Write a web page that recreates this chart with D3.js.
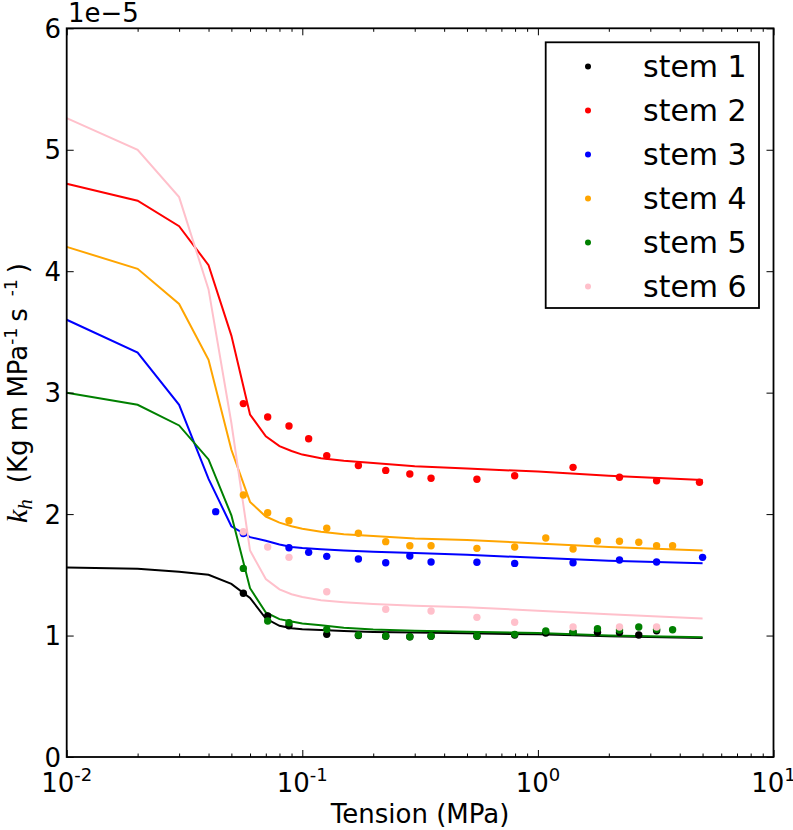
<!DOCTYPE html>
<html>
<head>
<meta charset="utf-8">
<script src="https://cdn.jsdelivr.net/npm/d3@7"></script>
<style>
  html, body { margin: 0; padding: 0; background: #fff; }
  svg { display: block; font-family: "DejaVu Sans", sans-serif; }
</style>
</head>
<body>
<div id="chart"></div>
<script>
// ---- data (k_h values in units of 1e-5) ----
const seriesNames = ["stem 1", "stem 2", "stem 3", "stem 4", "stem 5", "stem 6"];
const seriesColors = ["#000000", "#ff0000", "#0000ff", "#ffa500", "#008000", "#ffc0cb"];

// measured points
const stem1X = [0.0562, 0.0713, 0.0878, 0.127, 0.173, 0.226, 0.286, 0.352, 0.551, 0.797, 1.08, 1.41, 1.79, 2.22, 2.68, 3.19];
const stem1Y = [1.348, 1.161, 1.081, 1.010, 1.000, 0.995, 0.990, 0.995, 0.995, 1.005, 1.020, 1.027, 1.027, 1.025, 1.005, 1.040];
const stem2X = [0.0562, 0.0713, 0.0878, 0.1064, 0.127, 0.173, 0.226, 0.286, 0.352, 0.551, 0.797, 1.41, 2.22, 3.19, 4.85];
const stem2Y = [2.91, 2.80, 2.725, 2.62, 2.48, 2.40, 2.36, 2.33, 2.295, 2.287, 2.316, 2.385, 2.303, 2.275, 2.262];
const stem3X = [0.0429, 0.0562, 0.0878, 0.1064, 0.127, 0.173, 0.226, 0.286, 0.352, 0.551, 0.797, 1.41, 2.22, 3.19, 5.0];
const stem3Y = [2.02, 1.84, 1.723, 1.685, 1.652, 1.630, 1.600, 1.655, 1.605, 1.603, 1.594, 1.600, 1.622, 1.606, 1.644];
const stem4X = [0.0562, 0.0713, 0.0878, 0.127, 0.173, 0.226, 0.286, 0.352, 0.551, 0.797, 1.08, 1.41, 1.79, 2.22, 2.68, 3.19, 3.73];
const stem4Y = [2.157, 2.011, 1.946, 1.883, 1.842, 1.773, 1.740, 1.740, 1.718, 1.729, 1.803, 1.713, 1.778, 1.776, 1.768, 1.740, 1.740];
const stem5X = [0.0562, 0.0713, 0.0878, 0.127, 0.173, 0.226, 0.286, 0.352, 0.551, 0.797, 1.08, 1.41, 1.79, 2.22, 2.68, 3.19, 3.73];
const stem5Y = [1.553, 1.120, 1.106, 1.051, 1.004, 0.996, 0.990, 0.996, 0.996, 1.010, 1.037, 1.030, 1.057, 1.045, 1.070, 1.051, 1.048];
const stem6X = [0.0562, 0.0713, 0.0878, 0.127, 0.226, 0.352, 0.551, 0.797, 1.41, 2.22, 3.19];
const stem6Y = [1.855, 1.729, 1.644, 1.361, 1.216, 1.202, 1.150, 1.109, 1.070, 1.070, 1.070];

// model curves
const lineX = [0.01, 0.02, 0.03, 0.04, 0.05, 0.06, 0.07, 0.08, 0.09, 0.1, 0.12, 0.15, 0.2, 0.3, 0.5, 1, 2, 5];
const fit1 = [1.56, 1.55, 1.525, 1.50, 1.425, 1.31, 1.14, 1.08, 1.06, 1.052, 1.045, 1.038, 1.03, 1.025, 1.018, 1.01, 0.995, 0.98];
const fit2 = [4.72, 4.58, 4.37, 4.05, 3.47, 2.82, 2.64, 2.56, 2.52, 2.49, 2.46, 2.44, 2.42, 2.395, 2.375, 2.35, 2.315, 2.28];
const fit3 = [3.60, 3.33, 2.90, 2.29, 1.90, 1.81, 1.78, 1.75, 1.73, 1.72, 1.71, 1.70, 1.69, 1.68, 1.665, 1.64, 1.615, 1.595];
const fit4 = [4.20, 4.02, 3.73, 3.27, 2.53, 2.10, 1.98, 1.93, 1.90, 1.88, 1.855, 1.835, 1.82, 1.80, 1.787, 1.758, 1.73, 1.70];
const fit5 = [3.00, 2.90, 2.73, 2.45, 1.99, 1.39, 1.19, 1.135, 1.115, 1.10, 1.085, 1.065, 1.05, 1.04, 1.032, 1.02, 1.00, 0.985];
const fit6 = [5.26, 5.00, 4.61, 3.85, 2.75, 1.70, 1.465, 1.38, 1.34, 1.317, 1.29, 1.275, 1.26, 1.245, 1.232, 1.205, 1.175, 1.14];

// axes
const xMajorTicks = [0.01, 0.1, 1, 10];
const xTickExponents = ["-2", "-1", "0", "1"];
const yTicks = [0, 1, 2, 3, 4, 5, 6];
const yOffsetLabel = "1e\u22125";
const xLabel = "Tension (MPa)";

// ---- drawing ----
const W = 793, H = 830;
const M = { left: 66.7, right: 773.5, top: 28.3, bottom: 757 };

const pointsX = [stem1X, stem2X, stem3X, stem4X, stem5X, stem6X];
const pointsY = [stem1Y, stem2Y, stem3Y, stem4Y, stem5Y, stem6Y];
const fits = [fit1, fit2, fit3, fit4, fit5, fit6];

const x = d3.scaleLog().domain([0.01, 10]).range([M.left, M.right]);
const y = d3.scaleLinear().domain([0, 6]).range([M.bottom, M.top]);

const svg = d3.select("#chart").append("svg").attr("width", W).attr("height", H);

// curves
const line = d3.line().x(d => x(d[0])).y(d => y(d[1]));
fits.forEach((f, i) => {
  svg.append("path")
    .datum(lineX.map((v, j) => [v, f[j]]))
    .attr("d", line)
    .attr("fill", "none")
    .attr("stroke", seriesColors[i])
    .attr("stroke-width", 2);
});

// points
pointsX.forEach((xs, i) => {
  svg.append("g").selectAll("circle")
    .data(xs.map((v, j) => [v, pointsY[i][j]]))
    .join("circle")
    .attr("cx", d => x(d[0]))
    .attr("cy", d => y(d[1]))
    .attr("r", 3.7)
    .attr("fill", seriesColors[i]);
});

// minor ticks for log axis
const minorTicks = [];
[0.01, 0.1, 1].forEach(dec => { for (let k = 2; k <= 9; k++) minorTicks.push(dec * k); });

function styleAxis(g) {
  g.select(".domain").remove();
  g.selectAll(".tick line").attr("stroke", "#000").attr("stroke-width", 1);
  g.selectAll(".tick text").remove();
}

// bottom
svg.append("g").attr("transform", `translate(0,${M.bottom})`)
  .call(d3.axisBottom(x).tickValues(xMajorTicks).tickSizeInner(-7).tickSizeOuter(0)).call(styleAxis);
svg.append("g").attr("transform", `translate(0,${M.bottom})`)
  .call(d3.axisBottom(x).tickValues(minorTicks).tickSizeInner(-3.5).tickSizeOuter(0)).call(styleAxis);
// top
svg.append("g").attr("transform", `translate(0,${M.top})`)
  .call(d3.axisTop(x).tickValues(xMajorTicks).tickSizeInner(-7).tickSizeOuter(0)).call(styleAxis);
svg.append("g").attr("transform", `translate(0,${M.top})`)
  .call(d3.axisTop(x).tickValues(minorTicks).tickSizeInner(-3.5).tickSizeOuter(0)).call(styleAxis);
// left / right
svg.append("g").attr("transform", `translate(${M.left},0)`)
  .call(d3.axisLeft(y).tickValues(yTicks).tickSizeInner(-7).tickSizeOuter(0)).call(styleAxis);
svg.append("g").attr("transform", `translate(${M.right},0)`)
  .call(d3.axisRight(y).tickValues(yTicks).tickSizeInner(-7).tickSizeOuter(0)).call(styleAxis);

// frame
svg.append("rect")
  .attr("x", M.left).attr("y", M.top)
  .attr("width", M.right - M.left).attr("height", M.bottom - M.top)
  .attr("fill", "none").attr("stroke", "#000").attr("stroke-width", 1.8);

// x tick labels
const xl = svg.append("g").selectAll("text")
  .data(xMajorTicks)
  .join("text")
  .attr("x", d => x(d))
  .attr("y", 792)
  .attr("text-anchor", "middle")
  .attr("font-size", 26);
xl.append("tspan").text("10");
xl.append("tspan").attr("font-size", 18).attr("dy", -11).text((d, i) => xTickExponents[i]);

// y tick labels
svg.append("g").selectAll("text")
  .data(yTicks)
  .join("text")
  .attr("x", 61)
  .attr("y", d => y(d) + 9.5)
  .attr("text-anchor", "end")
  .attr("font-size", 26)
  .text(d => d);

// offset text
svg.append("text").attr("x", 68).attr("y", 22).attr("font-size", 26).text(yOffsetLabel);

// x label
svg.append("text")
  .attr("x", (M.left + M.right) / 2).attr("y", 823)
  .attr("text-anchor", "middle").attr("font-size", 26)
  .text(xLabel);

// y label
const yl = svg.append("text")
  .attr("transform", `translate(27,523) rotate(-90)`)
  .attr("text-anchor", "start")
  .attr("font-size", 26);
yl.append("tspan").attr("font-family", "Liberation Serif, serif").attr("font-style", "italic").attr("font-size", 30).text("k");
yl.append("tspan").attr("font-family", "Liberation Serif, serif").attr("font-style", "italic").attr("font-size", 21).attr("dy", 5).text("h");
yl.append("tspan").attr("dy", -5).attr("dx", 16).text("(Kg m MPa");
yl.append("tspan").attr("font-size", 17).attr("dy", -10).text("-1");
yl.append("tspan").attr("dy", 10).attr("dx", 6).text("s");
yl.append("tspan").attr("font-size", 17).attr("dy", -10).attr("dx", 12).text("-1");
yl.append("tspan").attr("dy", 10).attr("dx", 6).text(")");

// legend
const lg = svg.append("g");
lg.append("rect")
  .attr("x", 545.7).attr("y", 42.3).attr("width", 759 - 545.7).attr("height", 308 - 42.3)
  .attr("fill", "#fff").attr("stroke", "#000").attr("stroke-width", 1.8);
seriesNames.forEach((name, i) => {
  const cy = 66.5 + i * 44;
  lg.append("circle").attr("cx", 588).attr("cy", cy).attr("r", 3).attr("fill", seriesColors[i]);
  lg.append("text").attr("x", 643).attr("y", cy + 10.5).attr("font-size", 30).text(name);
});
</script>
</body>
</html>
